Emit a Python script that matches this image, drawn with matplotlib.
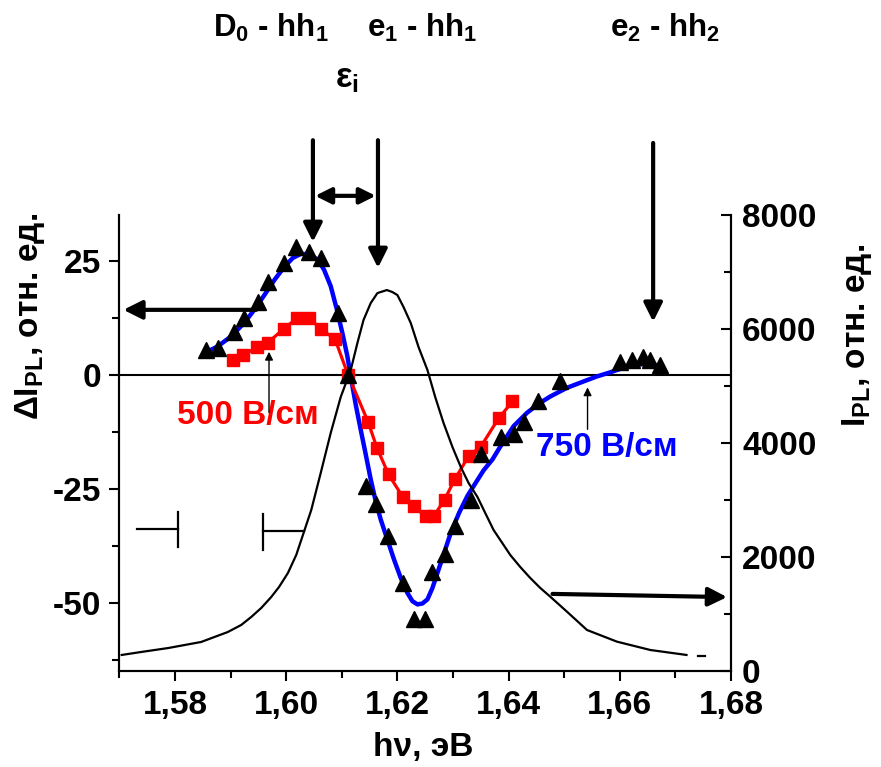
import matplotlib
matplotlib.use("Agg")
import matplotlib.pyplot as plt
from matplotlib.ticker import MultipleLocator

# ---------------- data ----------------
# 750 V/cm measured points (triangles), left axis
tri_x = [1.5856, 1.5878, 1.5906, 1.5924, 1.5949, 1.5967, 1.5996, 1.6018, 1.6041, 1.6062,
         1.6093, 1.6111, 1.6143, 1.6161, 1.6183, 1.6210, 1.6229, 1.6249, 1.6263, 1.6285,
         1.6303, 1.6332, 1.6351, 1.6387, 1.6409, 1.6427, 1.6452, 1.6493, 1.6601, 1.6622,
         1.6642, 1.6655, 1.6673]
tri_y = [5.5, 5.9, 9.4, 12.3, 16.0, 20.4, 24.5, 28.0, 26.9, 25.6,
         13.6, 0.0, -24.4, -28.4, -35.4, -45.6, -53.6, -53.6, -43.4, -39.4,
         -33.2, -27.4, -17.5, -13.6, -13.1, -10.3, -5.9, -1.5, 2.8, 3.3,
         3.9, 3.3, 2.2]

# 500 V/cm measured points (squares), left axis
sq_x = [1.5905, 1.5923, 1.5948, 1.5967, 1.5996, 1.6019, 1.6041, 1.6062, 1.6088, 1.6111,
        1.6147, 1.6163, 1.6184, 1.6210, 1.6229, 1.6251, 1.6265, 1.6285, 1.6303, 1.6328,
        1.6350, 1.6382, 1.6407]
sq_y = [3.1, 4.2, 6.1, 7.0, 10.1, 12.3, 12.3, 10.1, 7.7, 0.0,
        -10.3, -16.0, -21.9, -26.9, -28.9, -31.1, -31.1, -27.4, -23.0, -17.9,
        -15.8, -9.6, -5.9]

# 750 V/cm fitted curve (blue), left axis
fit_x = [1.5856, 1.5877, 1.5901, 1.5925, 1.5943, 1.5961, 1.5979, 1.5997, 1.6012, 1.6027,
         1.6041, 1.6057, 1.6068, 1.6080, 1.6091, 1.6101, 1.6110, 1.6116, 1.6125, 1.6134,
         1.6143, 1.6152, 1.6161, 1.6170, 1.6182, 1.6194, 1.6206, 1.6218, 1.6227, 1.6236,
         1.6245, 1.6254, 1.6263, 1.6272, 1.6284, 1.6296, 1.6311, 1.6326, 1.6341, 1.6355,
         1.6371, 1.6385, 1.6409, 1.6433, 1.6454, 1.6475, 1.6505, 1.6535, 1.6559, 1.6583,
         1.6607, 1.6631, 1.6655, 1.6676]
fit_y = [4.9, 6.2, 8.4, 11.4, 14.3, 17.5, 20.8, 23.7, 25.6, 26.5,
         26.3, 25.2, 23.0, 19.4, 14.3, 9.1, 4.0, -0.4, -6.6, -12.1,
         -17.5, -23.0, -27.8, -31.8, -36.2, -40.6, -44.6, -47.9, -49.7, -50.4,
         -50.2, -49.3, -46.8, -43.5, -39.1, -34.7, -30.3, -26.6, -23.7, -21.0,
         -18.6, -15.8, -11.3, -8.4, -6.4, -4.8, -2.9, -1.5, -0.4, 0.5,
         1.5, 2.2, 2.4, 1.7]

# photoluminescence spectrum (thin black), right axis
pl_x = [1.5704, 1.5739, 1.5788, 1.5847, 1.5895, 1.5919, 1.5937, 1.5955, 1.5973, 1.5987,
        1.6003, 1.6018, 1.6027, 1.6045, 1.6062, 1.6080, 1.6098, 1.6116, 1.6128, 1.6139,
        1.6152, 1.6164, 1.6181, 1.6191, 1.6200, 1.6211, 1.6224, 1.6238, 1.6254, 1.6268,
        1.6283, 1.6299, 1.6314, 1.6328, 1.6344, 1.6358, 1.6373, 1.6385, 1.6403, 1.6421,
        1.6439, 1.6457, 1.6475, 1.6505, 1.6541, 1.6595, 1.6655, 1.6720]
pl_y = [281, 333, 403, 509, 684, 807, 947, 1105, 1298, 1473,
        1719, 2035, 2298, 2824, 3473, 4175, 4806, 5280, 5753, 6157,
        6455, 6630, 6683, 6648, 6595, 6385, 6104, 5683, 5280, 4806,
        4350, 3929, 3578, 3298, 3052, 2771, 2473, 2298, 2035, 1824,
        1631, 1456, 1303, 1040, 719, 514, 368, 281]
pl_tail_x = [1.6741, 1.6753]
pl_tail_y = [270, 270]

# transition energies marked by arrows
trans_x = [1.6048, 1.6165, 1.6660]
trans_tip_y = [29.1, 23.4, 11.6]
trans_top_y = [51.4, 51.4, 50.8]

x_ticks = [1.58, 1.60, 1.62, 1.64, 1.66, 1.68]
x_ticklabels = ["1,58", "1,60", "1,62", "1,64", "1,66", "1,68"]
yl_ticks = [-50, -25, 0, 25]
yr_ticks = [0, 2000, 4000, 6000, 8000]

# ---------------- style ----------------
plt.rcParams['font.family'] = ['Liberation Sans', 'DejaVu Sans']
plt.rcParams['font.weight'] = 'bold'
plt.rcParams['axes.unicode_minus'] = False
plt.rcParams['mathtext.fontset'] = 'custom'
plt.rcParams['mathtext.rm'] = 'Liberation Sans:bold'
plt.rcParams['mathtext.bf'] = 'Liberation Sans:bold'
plt.rcParams['mathtext.it'] = 'Liberation Sans:bold'
plt.rcParams['mathtext.default'] = 'bf'

FS = 24
fig = plt.figure(figsize=(8.81, 7.67), dpi=100)
ax = fig.add_axes([0.1356, 0.1252, 0.8297 - 0.1356, 0.7197 - 0.1252])
ax2 = ax.twinx()

# left axis content
ax.axhline(0, color='k', lw=1.5, zorder=1)
ax.plot(fit_x, fit_y, color='#0000ff', lw=3.2, zorder=3, solid_joinstyle='round')
ax.plot(sq_x, sq_y, color='#ff0000', lw=2.3, marker='s', ms=9, mec='#ff0000', zorder=4)
ax.plot(tri_x, tri_y, ls='none', marker='^', ms=11, color='k', zorder=5)

# right axis content
ax2.plot(pl_x, pl_y, color='k', lw=1.6, zorder=2, solid_joinstyle='round')
ax2.plot(pl_tail_x, pl_tail_y, color='k', lw=1.6, zorder=2)

ax.set_xlim(1.57, 1.68)
ax.set_ylim(-65, 35)
ax2.set_ylim(0, 8000)

for a in (ax, ax2):
    a.spines['top'].set_visible(False)
    for s in a.spines.values():
        s.set_linewidth(1.5)

ax.set_xticks(x_ticks)
ax.set_xticklabels(x_ticklabels)
ax.xaxis.set_minor_locator(MultipleLocator(0.01))
ax.set_yticks(yl_ticks)
ax.yaxis.set_minor_locator(MultipleLocator(12.5))
ax2.set_yticks(yr_ticks)
ax2.yaxis.set_minor_locator(MultipleLocator(1000))

ax.tick_params(axis='x', which='major', direction='out', length=7, width=1.5, pad=7, labelsize=FS)
ax.tick_params(axis='x', which='minor', direction='out', length=5, width=1.5)
ax.tick_params(axis='y', which='major', direction='out', length=7, width=1.5, pad=6, labelsize=FS)
ax.tick_params(axis='y', which='minor', direction='out', length=5, width=1.5)
ax2.tick_params(axis='y', which='major', direction='in', length=7, width=1.5, pad=8, labelsize=FS)
ax2.tick_params(axis='y', which='minor', direction='in', length=5, width=1.5)
for lab in ax.get_xticklabels() + ax.get_yticklabels() + ax2.get_yticklabels():
    lab.set_fontweight('bold')

# axis labels
fig.text(0.034, 0.588, 'ΔI$_{PL}$, отн. ед.', rotation=90, ha='center', va='center', fontsize=24)
fig.text(0.973, 0.562, 'I$_{PL}$, отн. ед.', rotation=90, ha='center', va='center', fontsize=24)
fig.text(0.480, 0.026, 'hν, эВ', ha='center', va='center', fontsize=24)

# top labels
TFS = 22.5
fig.text(0.2418, 0.952, 'D$_0$ - hh$_1$', ha='left', va='baseline', fontsize=TFS)
fig.text(0.4166, 0.952, 'e$_1$ - hh$_1$', ha='left', va='baseline', fontsize=TFS)
fig.text(0.6924, 0.952, 'e$_2$ - hh$_2$', ha='left', va='baseline', fontsize=TFS)
fig.text(0.380, 0.886, 'ε$_i$', ha='left', va='baseline', fontsize=25)

# field labels
ax.text(1.5804, -10.8, '500 В/см', color='#ff0000', fontsize=FS, ha='left', va='baseline')
ax.text(1.6450, -17.8, '750 В/см', color='#0000ff', fontsize=FS, ha='left', va='baseline')

# transition arrows
big = dict(arrowstyle='-|>', lw=3, color='k', mutation_scale=28, shrinkA=0, shrinkB=0)
for xt, ytip, ytop in zip(trans_x, trans_tip_y, trans_top_y):
    ax.annotate('', xy=(xt, ytip), xytext=(xt, ytop), arrowprops=big, annotation_clip=False)
ax.annotate('', xy=(trans_x[0] + 0.0004, 39.2), xytext=(trans_x[1] - 0.0004, 39.2),
            arrowprops=dict(arrowstyle='<|-|>', lw=3, color='k', mutation_scale=24,
                            shrinkA=0, shrinkB=0), annotation_clip=False)

# axis-pointing arrows
ax.annotate('', xy=(1.5707, 14.2), xytext=(1.5946, 14.2), arrowprops=big, annotation_clip=False)
ax.annotate('', xy=(1.6793, -48.8), xytext=(1.6479, -48.1), arrowprops=big, annotation_clip=False)

# thin pointer arrows
thin = dict(arrowstyle='-|>', lw=1, color='k', mutation_scale=12, shrinkA=0, shrinkB=0)
ax.annotate('', xy=(1.5969, 5.0), xytext=(1.5969, -8.3), arrowprops=thin)
ax.annotate('', xy=(1.6542, -2.8), xytext=(1.6542, -12.0), arrowprops=thin)

# resolution bars
ax.plot([1.5731, 1.5805], [-33.9, -33.9], color='k', lw=1.6)
ax.plot([1.5805, 1.5805], [-30.2, -37.9], color='k', lw=1.6)
ax.plot([1.5958, 1.5958], [-30.6, -38.5], color='k', lw=1.6)
ax.plot([1.5958, 1.6032], [-34.4, -34.4], color='k', lw=1.6)

fig.savefig('out.png', dpi=100)
